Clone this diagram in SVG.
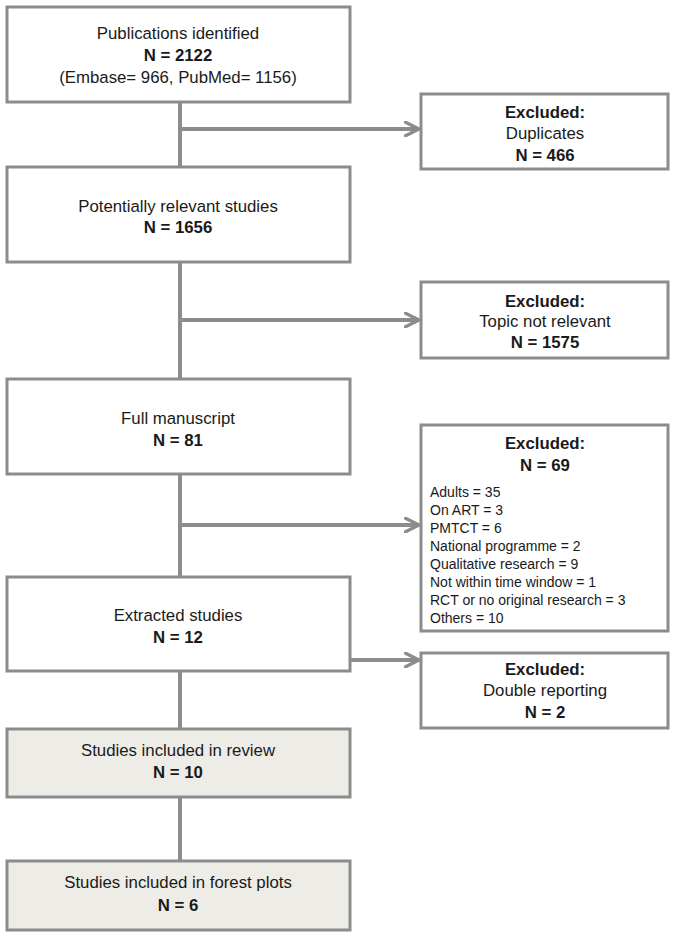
<svg xmlns="http://www.w3.org/2000/svg" width="676" height="938" viewBox="0 0 676 938">
<style>
.box{fill:#ffffff;stroke:#8c8c8c;stroke-width:3}
.gbox{fill:#eeece6;stroke:#8c8c8c;stroke-width:3}
.t{font-family:"Liberation Sans",Arial,sans-serif;font-size:16.8px;fill:#1a1a1a;text-anchor:middle}
.b{font-weight:bold}
.l{font-family:"Liberation Sans",Arial,sans-serif;font-size:14px;fill:#1a1a1a}
.c{stroke:#8c8c8c;stroke-width:4;fill:none}
</style>
<defs>
<marker id="arr" viewBox="0 0 10 10" refX="9" refY="5" markerWidth="4.2" markerHeight="4.2" markerUnits="strokeWidth" orient="auto">
<path d="M1,1 L9,5 L1,9" fill="none" stroke="#8c8c8c" stroke-width="2" stroke-linecap="round" stroke-linejoin="round"/>
</marker>
</defs>
<rect width="676" height="938" fill="#ffffff"/>
<g id="connectors">
<line class="c" x1="180" y1="102" x2="180" y2="167"/>
<line class="c" x1="180" y1="262" x2="180" y2="379"/>
<line class="c" x1="180" y1="474" x2="180" y2="577"/>
<line class="c" x1="180" y1="671" x2="180" y2="729"/>
<line class="c" x1="180" y1="797" x2="180" y2="861"/>
<line class="c" x1="180" y1="129" x2="419" y2="129" marker-end="url(#arr)"/>
<line class="c" x1="180" y1="320" x2="419" y2="320" marker-end="url(#arr)"/>
<line class="c" x1="180" y1="525" x2="419" y2="525" marker-end="url(#arr)"/>
<line class="c" x1="350" y1="660" x2="419" y2="660" marker-end="url(#arr)"/>
</g>
<g id="n1">
<rect class="box" x="7" y="7" width="343" height="95"/>
<text class="t" x="178" y="39">Publications identified</text>
<text class="t b" x="178" y="61">N = 2122</text>
<text class="t" x="178" y="83">(Embase= 966, PubMed= 1156)</text>
</g>
<g id="e1">
<rect class="box" x="421" y="94" width="247" height="75"/>
<text class="t b" x="545" y="118">Excluded:</text>
<text class="t" x="545" y="139">Duplicates</text>
<text class="t b" x="545" y="161">N = 466</text>
</g>
<g id="n2">
<rect class="box" x="7" y="167" width="343" height="95"/>
<text class="t" x="178" y="212">Potentially relevant studies</text>
<text class="t b" x="178" y="233">N = 1656</text>
</g>
<g id="e2">
<rect class="box" x="421" y="282" width="247" height="76"/>
<text class="t b" x="545" y="307">Excluded:</text>
<text class="t" x="545" y="327">Topic not relevant</text>
<text class="t b" x="545" y="348">N = 1575</text>
</g>
<g id="n3">
<rect class="box" x="7" y="379" width="343" height="95"/>
<text class="t" x="178" y="424">Full manuscript</text>
<text class="t b" x="178" y="446">N = 81</text>
</g>
<g id="e3">
<rect class="box" x="421" y="425" width="247" height="206"/>
<text class="t b" x="545" y="449">Excluded:</text>
<text class="t b" x="545" y="471">N = 69</text>
<text class="l" x="430" y="497">Adults = 35</text>
<text class="l" x="430" y="515">On ART = 3</text>
<text class="l" x="430" y="533">PMTCT  = 6</text>
<text class="l" x="430" y="551">National programme = 2</text>
<text class="l" x="430" y="569">Qualitative research = 9</text>
<text class="l" x="430" y="587">Not within time window  = 1</text>
<text class="l" x="430" y="605">RCT or no original research = 3</text>
<text class="l" x="430" y="623">Others = 10</text>
</g>
<g id="n4">
<rect class="box" x="7" y="577" width="343" height="94"/>
<text class="t" x="178" y="621">Extracted studies</text>
<text class="t b" x="178" y="643">N = 12</text>
</g>
<g id="e4">
<rect class="box" x="421" y="653" width="247" height="75"/>
<text class="t b" x="545" y="675">Excluded:</text>
<text class="t" x="545" y="696">Double reporting</text>
<text class="t b" x="545" y="718">N = 2</text>
</g>
<g id="n5">
<rect class="gbox" x="7" y="729" width="343" height="68"/>
<text class="t" x="178" y="756">Studies included in review</text>
<text class="t b" x="178" y="778">N = 10</text>
</g>
<g id="n6">
<rect class="gbox" x="7" y="861" width="343" height="69"/>
<text class="t" x="178" y="888">Studies included in forest plots</text>
<text class="t b" x="178" y="911">N = 6</text>
</g>
</svg>
